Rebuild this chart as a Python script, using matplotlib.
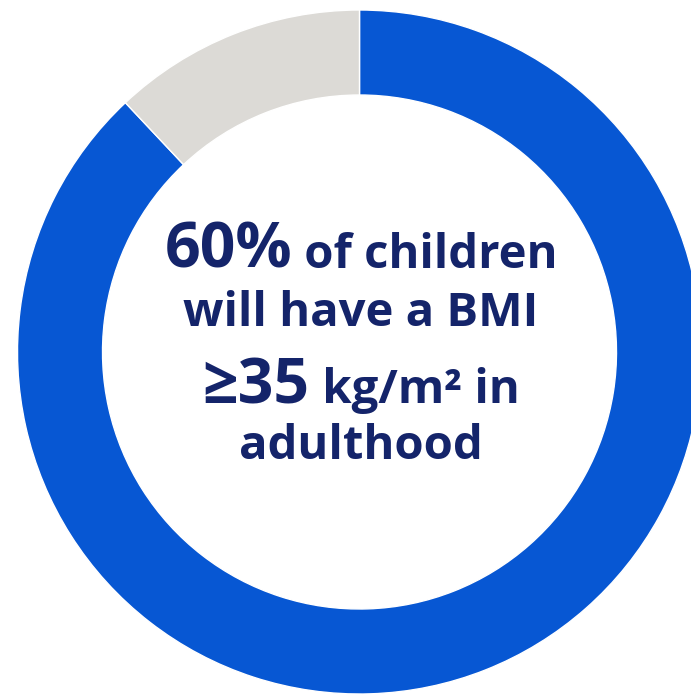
import matplotlib
matplotlib.use("Agg")
import matplotlib.pyplot as plt

# ring shares (blue part, grey remainder)
shares = [88, 12]
ring_colors = ["#0757D3", "#DCDAD6"]

# centre text, one list of (piece, size in pt) per line
lines = [
    [("60%", 45), (" of children", 34)],
    [("will have a BMI", 34)],
    [("≥35", 45), (" kg/m² in", 34)],
    [("adulthood", 34)],
]
baselines = [268, 326, 403, 459]
text_color = "#14246A"

W, H = 691, 698
fig = plt.figure(figsize=(W / 100, H / 100), dpi=100)
ax = fig.add_axes([0, 0, 1, 1])

cx, cy = 359.5, H - 352
ax.pie(shares, colors=ring_colors, startangle=90, counterclock=False,
       center=(cx, cy), radius=342,
       wedgeprops=dict(width=85, edgecolor="white", linewidth=1))
ax.set_xlim(0, W)
ax.set_ylim(0, H)
ax.set_aspect("equal")
ax.axis("off")

plt.rcParams["font.family"] = ["Open Sans", "DejaVu Sans"]
renderer = fig.canvas.get_renderer()

for pieces, base in zip(lines, baselines):
    items = []
    for s, size in pieces:
        t = ax.text(0, H - base, s, fontsize=size, fontweight="bold",
                    color=text_color, va="baseline", ha="left")
        w = t.get_window_extent(renderer).width
        items.append((t, w))
    total = sum(w for _, w in items)
    x = cx + 1.5 - total / 2
    for t, w in items:
        t.set_x(x)
        x += w

fig.savefig("out.png", dpi=100)
